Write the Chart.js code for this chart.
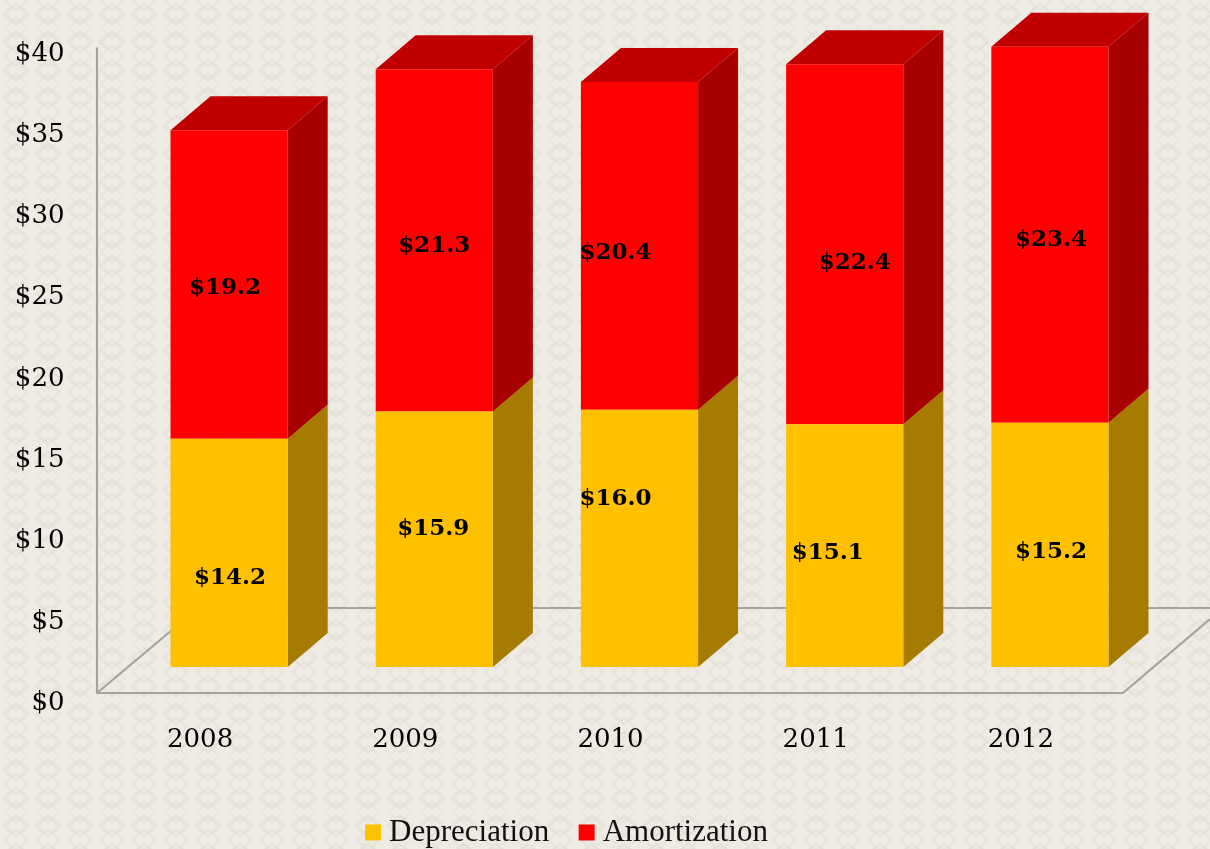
<!DOCTYPE html>
<html>
<head>
<meta charset="utf-8">
<script src="https://cdn.jsdelivr.net/npm/chart.js@4"></script>
<style>
html,body{margin:0;padding:0;width:1210px;height:849px;overflow:hidden;background-color:#EDEBE4;
background-image:url("data:image/svg+xml,%3Csvg xmlns='http://www.w3.org/2000/svg' width='32' height='28'%3E%3Cg fill='none' stroke='%23E4E2D9' stroke-width='2.5'%3E%3Cpath d='M16 4L28 14L16 24L4 14Z'/%3E%3Cpath d='M0 -4L16 10L32 -4M0 32L16 18L32 32' opacity='.6'/%3E%3C/g%3E%3C/svg%3E");}
canvas{display:block}
</style>
</head>
<body>
<canvas id="c" width="1210" height="856"></canvas>
<script>
const categories = ['2008','2009','2010','2011','2012'];
const depreciation = [14.2,15.9,16.0,15.1,15.2];
const amortization = [19.2,21.3,20.4,22.4,23.4];
const axisTicks = [0,5,10,15,20,25,30,35,40];

const depthX = 40, depthY = 34;
// hand-placed label nudges in the original, in pixels
const depLabelNudge = [[1,25],[-1,-10],[-24,-39],[-17,7],[1,7]];
const amoLabelNudge = [[-4,4],[0,6],[-24,7],[10,19],[1,5]];

function quad(ctx,pts,color){
  ctx.fillStyle=color;ctx.beginPath();
  pts.forEach((p,i)=>i?ctx.lineTo(p[0],p[1]):ctx.moveTo(p[0],p[1]));
  ctx.closePath();ctx.fill();
}
const floorPlugin={
  id:'floor',
  afterLayout(chart){
    const l=chart.legend;
    l.left-=6;l.right-=6;l.top+=2;l.bottom+=2;
  },
  beforeDatasetsDraw(chart){
    const ctx=chart.ctx,a=chart.scales.yAxis,x0=97;
    const floorY=a.getPixelForValue(0)-10,topY=a.getPixelForValue(40)-7;
    ctx.save();ctx.strokeStyle='#A3A3A0';ctx.lineWidth=2.2;
    ctx.beginPath();
    ctx.moveTo(x0,topY);ctx.lineTo(x0,floorY);ctx.lineTo(1123,floorY);ctx.lineTo(1210,619);
    ctx.moveTo(x0,floorY);ctx.lineTo(172,floorY-63);
    ctx.moveTo(170,608);ctx.lineTo(1210,608);
    ctx.stroke();ctx.restore();
    const m0=chart.getDatasetMeta(0).data,m1=chart.getDatasetMeta(1).data;
    ctx.save();
    [[m0,'#A67C00'],[m1,'#A60000']].forEach(([m,col])=>m.forEach(b=>{
      const r=b.x+b.width/2;
      quad(ctx,[[r,b.y],[r+depthX,b.y-depthY],[r+depthX,b.base-depthY],[r,b.base]],col);
    }));
    m1.forEach(b=>{
      const l=b.x-b.width/2,r=b.x+b.width/2;
      quad(ctx,[[l,b.y],[l+depthX,b.y-depthY],[r+depthX,b.y-depthY],[r,b.y]],'#C00000');
    });
    ctx.restore();
  },
  afterDatasetsDraw(chart){
    const ctx=chart.ctx;
    ctx.save();
    ctx.font='bold 23px "DejaVu Serif"';ctx.fillStyle='#000';ctx.textAlign='center';ctx.textBaseline='middle';
    [[0,depLabelNudge],[1,amoLabelNudge]].forEach(([i,n])=>{
      chart.getDatasetMeta(i).data.forEach((b,k)=>{
        const v=chart.data.datasets[i].data[k];
        ctx.fillText('$'+v.toFixed(1),b.x+n[k][0],(b.y+b.base)/2+n[k][1]);
      });
    });
    ctx.restore();
  }
};

new Chart(document.getElementById('c'),{
  type:'bar',
  data:{labels:categories,datasets:[
    {label:'Depreciation',data:depreciation,backgroundColor:'#FFC000',pointStyle:'rect',borderWidth:0,clip:false},
    {label:'Amortization',data:amortization,backgroundColor:'#FF0000',pointStyle:'rect',borderWidth:0,clip:false}
  ]},
  plugins:[floorPlugin],
  options:{
    responsive:false,animation:false,
    barPercentage:0.571,categoryPercentage:1,
    layout:{autoPadding:false,padding:{top:0,left:0,right:57.5,bottom:0}},
    plugins:{
      tooltip:{enabled:false},
      legend:{position:'bottom',
        labels:{usePointStyle:true,boxWidth:1,boxHeight:16,padding:37,color:'#111',
          font:{family:'"Liberation Serif"',size:31}}}
    },
    scales:{
      x:{stacked:true,grid:{display:false},border:{display:false},
        afterFit:s=>{s.height=78;},
        ticks:{color:'#000',padding:17,labelOffset:-29,maxRotation:0,font:{family:'"DejaVu Serif"',size:26}}},
      y:{stacked:true,display:false,min:-33/16.06,max:597/16.06},
      yAxis:{position:'left',min:3/16.2,max:633/16.2,grid:{display:false},border:{display:false},
        afterFit:s=>{s.width=126.5;},
        afterBuildTicks:s=>{s.ticks=axisTicks.map(v=>({value:v}));},
        ticks:{color:'#000',padding:54,callback:v=>'$'+v,font:{family:'"DejaVu Serif"',size:26}}}
    }
  }
});
</script>
</body>
</html>
